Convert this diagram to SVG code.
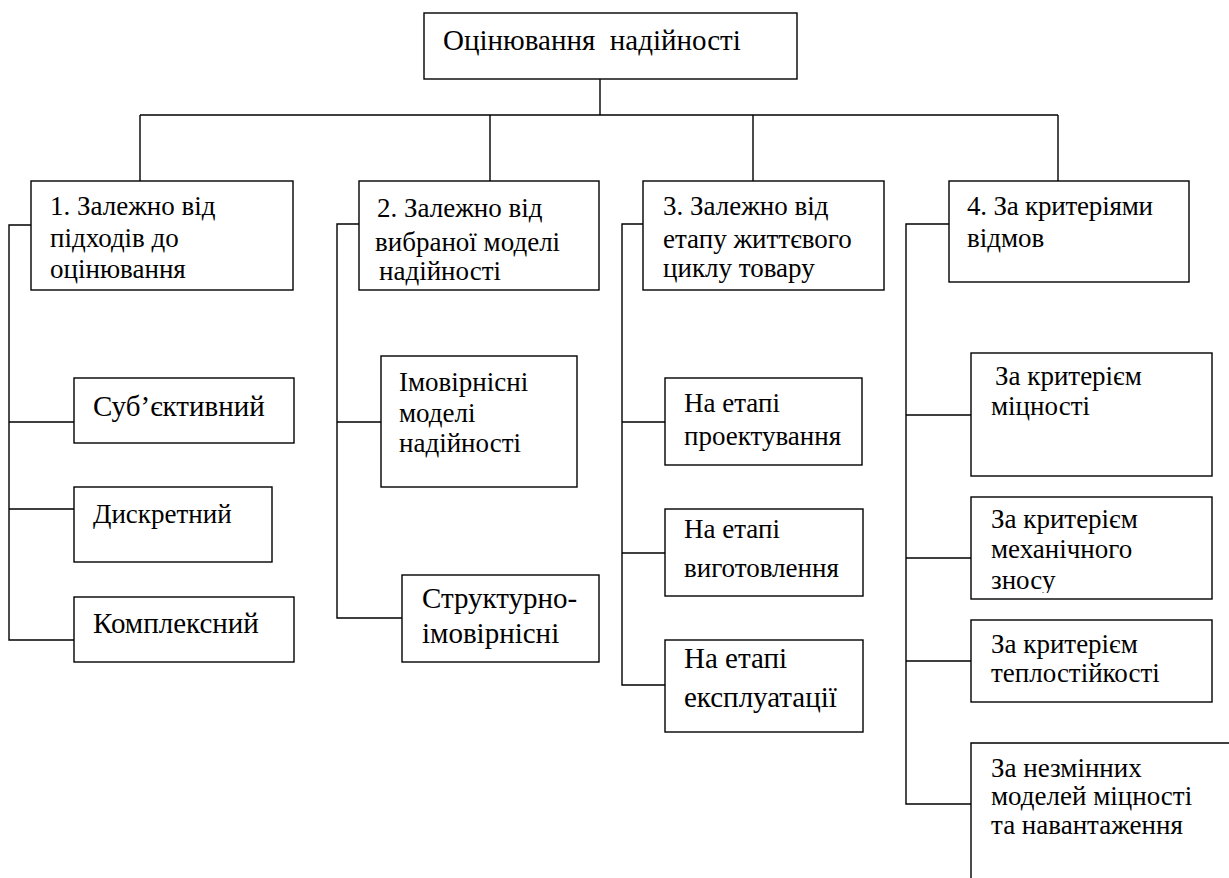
<svg xmlns="http://www.w3.org/2000/svg" width="1229" height="878" viewBox="0 0 1229 878">
<defs>
<style>
.n rect, path.b { fill: #fff; stroke: #000; stroke-width: 1.4; }
.c path { fill: none; stroke: #000; stroke-width: 1.4; }
text { font-size: 27px; fill: #000; }
.big { font-size: 29px; }
</style>
<clipPath id="clipZnosu"><rect x="971" y="497" width="241" height="96"/></clipPath>
</defs>
<g class="c" id="connectors">
<path d="M600,79 V115"/>
<path d="M140,115 H1058"/>
<path d="M140,115 V181 M490,115 V181 M753,115 V181 M1058,115 V181"/>
<path d="M31,225 H9 V640 H74 M9,422 H74 M9,509 H74"/>
<path d="M359,224 H337 V618 H402 M337,422 H381"/>
<path d="M643,224 H622 V685 H665 M622,422 H665 M622,553 H665"/>
<path d="M949,224 H906 V804 H971 M906,415 H971 M906,558 H971 M906,661 H971"/>
</g>
<g class="n" font-family="Liberation Serif, Times New Roman, serif">
<g id="root"><rect x="424" y="13" width="373" height="66"/><text font-family="Liberation Serif, serif" class="big" x="443" y="50" xml:space="preserve">Оцінювання  надійності</text></g>
<g id="cat1"><rect x="31" y="181" width="262" height="109"/><text font-family="Liberation Serif, serif" x="50" y="215">1. Залежно від<tspan x="50" y="247">підходів до</tspan><tspan x="50" y="278">оцінювання</tspan></text></g>
<g id="cat2"><rect x="359" y="181" width="240" height="109"/><text font-family="Liberation Serif, serif" x="377" y="217">2. Залежно від<tspan x="375" y="251">вибраної моделі</tspan><tspan x="379" y="280">надійності</tspan></text></g>
<g id="cat3"><rect x="643" y="181" width="241" height="109"/><text font-family="Liberation Serif, serif" x="663" y="215">3. Залежно від<tspan x="663" y="248">етапу життєвого</tspan><tspan x="663" y="277">циклу товару</tspan></text></g>
<g id="cat4"><rect x="949" y="181" width="240" height="101"/><text font-family="Liberation Serif, serif" x="967" y="215" textLength="186" lengthAdjust="spacing">4. За критеріями</text><text font-family="Liberation Serif, serif" x="967" y="247">відмов</text></g>
<g id="subj"><rect x="74" y="378" width="220" height="65"/><text font-family="Liberation Serif, serif" class="big" x="93" y="416">Суб’єктивний</text></g>
<g id="discr"><rect x="74" y="487" width="198" height="75"/><text font-family="Liberation Serif, serif" x="93" y="523">Дискретний</text></g>
<g id="compl"><rect x="74" y="597" width="220" height="65"/><text font-family="Liberation Serif, serif" class="big" x="93" y="633">Комплексний</text></g>
<g id="prob"><rect x="381" y="356" width="196" height="131"/><text font-family="Liberation Serif, serif" x="399" y="391">Імовірнісні<tspan x="399" y="422">моделі</tspan><tspan x="399" y="452">надійності</tspan></text></g>
<g id="struct"><rect x="402" y="575" width="197" height="87"/><text font-family="Liberation Serif, serif" class="big" x="422" y="608">Структурно-<tspan x="422" y="643">імовірнісні</tspan></text></g>
<g id="design"><rect x="665" y="378" width="197" height="87"/><text font-family="Liberation Serif, serif" x="684" y="412">На етапі<tspan x="684" y="445">проектування</tspan></text></g>
<g id="manuf"><rect x="665" y="509" width="198" height="87"/><text font-family="Liberation Serif, serif" x="684" y="538">На етапі<tspan x="684" y="577">виготовлення</tspan></text></g>
<g id="oper"><rect x="665" y="640" width="198" height="92"/><text font-family="Liberation Serif, serif" class="big" x="684" y="668">На етапі<tspan x="684" y="707">експлуатації</tspan></text></g>
<g id="strength"><rect x="971" y="353" width="241" height="123"/><text font-family="Liberation Serif, serif" x="995" y="385">За критерієм<tspan x="991" y="415">міцності</tspan></text></g>
<g id="wear"><rect x="971" y="497" width="241" height="102"/><text font-family="Liberation Serif, serif" x="991" y="528" clip-path="url(#clipZnosu)">За критерієм<tspan x="991" y="558">механічного</tspan><tspan x="991" y="589">зносу</tspan></text></g>
<g id="heat"><rect x="971" y="620" width="241" height="82"/><text font-family="Liberation Serif, serif" x="991" y="653">За критерієм<tspan x="991" y="682">теплостійкості</tspan></text></g>
<g id="models"><path class="b" d="M971,880 V743 H1231"/><text font-family="Liberation Serif, serif" x="991" y="777">За незмінних<tspan x="991" y="805">моделей міцності</tspan><tspan x="991" y="834">та навантаження</tspan></text></g>
</g>
</svg>
